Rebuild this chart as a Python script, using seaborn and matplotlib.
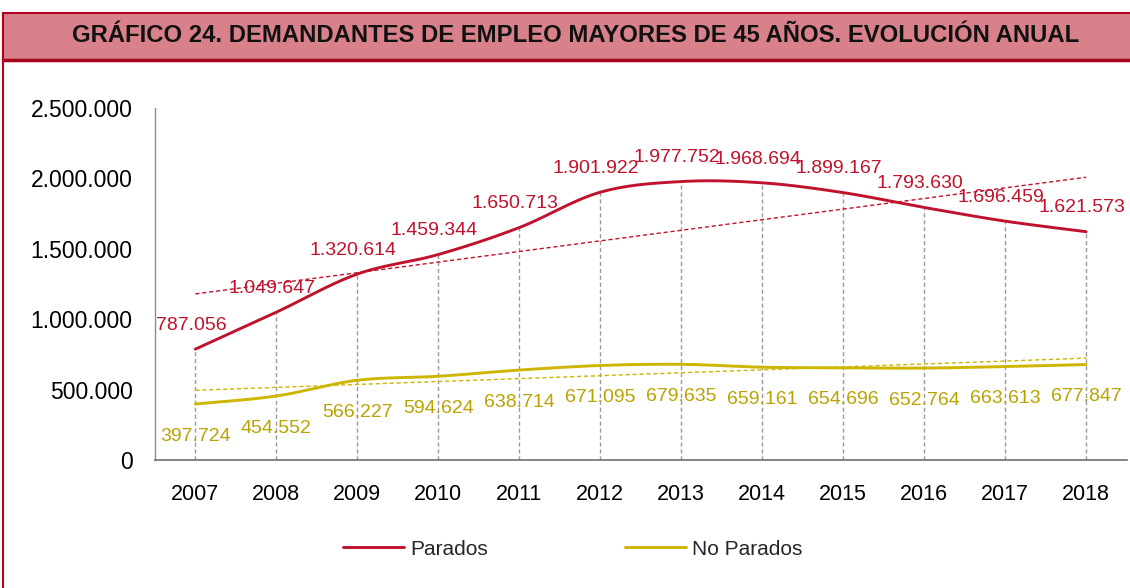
import numpy as np
import pandas as pd
import matplotlib
matplotlib.use('Agg')
import matplotlib.pyplot as plt
import seaborn as sns
from matplotlib.patches import Rectangle
from matplotlib.lines import Line2D
from matplotlib.ticker import FuncFormatter

# data
years = [2007, 2008, 2009, 2010, 2011, 2012, 2013, 2014, 2015, 2016, 2017, 2018]
parados = [787056, 1049647, 1320614, 1459344, 1650713, 1901922,
           1977752, 1968694, 1899167, 1793630, 1696459, 1621573]
no_parados = [397724, 454552, 566227, 594624, 638714, 671095,
              679635, 659161, 654696, 652764, 663613, 677847]
title = 'GRÁFICO 24. DEMANDANTES DE EMPLEO MAYORES DE 45 AÑOS. EVOLUCIÓN ANUAL'

RED = '#C0122C'
GOLD = '#CDB500'
GOLD_TXT = '#B9A300'


def smooth(x, y, n=30):
    # Excel-style smoothed line (Catmull-Rom bezier)
    x = np.asarray(x, float)
    y = np.asarray(y, float)
    px = np.concatenate([[x[0]], x, [x[-1]]])
    py = np.concatenate([[y[0]], y, [y[-1]]])
    xs, ys = [], []
    t = np.linspace(0, 1, n)
    for i in range(1, len(px) - 2):
        p0 = np.array([px[i], py[i]])
        p3 = np.array([px[i + 1], py[i + 1]])
        p1 = p0 + (p3 - np.array([px[i - 1], py[i - 1]])) / 6
        p2 = p3 - (np.array([px[i + 2], py[i + 2]]) - p0) / 6
        b = ((1 - t) ** 3)[:, None] * p0 + (3 * (1 - t) ** 2 * t)[:, None] * p1 \
            + (3 * (1 - t) * t ** 2)[:, None] * p2 + (t ** 3)[:, None] * p3
        xs.extend(b[:, 0])
        ys.extend(b[:, 1])
    return np.array(xs), np.array(ys)


sns.set_style('white')
plt.rcParams['font.family'] = ['Liberation Sans', 'DejaVu Sans']

fig = plt.figure(figsize=(11.3, 5.88), dpi=100)
ax = fig.add_axes([0.137, 0.2177, 0.86, 0.5986])

# drop lines
for x, y in zip(years, parados):
    ax.plot([x, x], [0, y], color='#9a9a9a', lw=1, ls=(0, (3, 2)), zorder=1)

for vals, col in [(parados, RED), (no_parados, GOLD)]:
    sx, sy = smooth(years, vals)
    sns.lineplot(x=sx, y=sy, ax=ax, color=col, lw=2.1, sort=False, zorder=3)
    k, c = np.polyfit(years, vals, 1)
    tx = np.array([years[0], years[-1]])
    ax.plot(tx, k * tx + c, color=col, lw=1, ls=(0, (3, 2)), zorder=2)

for x, y in zip(years, parados):
    ax.annotate(f'{y:,}'.replace(',', '.'), (x, y), xytext=(-3, 11),
                textcoords='offset points', ha='center', va='bottom',
                fontsize=14, color=RED, zorder=4)
for x, y in zip(years, no_parados):
    ax.annotate(f'{y:,}'.replace(',', '.'), (x, y), xytext=(0, -17),
                textcoords='offset points', ha='center', va='top',
                fontsize=14, color=GOLD_TXT, zorder=4)

ax.set_xlim(2006.5, 2018.5)
ax.set_ylim(0, 2500000)
ax.set_xticks(years)
ax.set_yticks(range(0, 2500001, 500000))
ax.yaxis.set_major_formatter(FuncFormatter(lambda v, p: f'{int(v):,}'.replace(',', '.')))
ax.tick_params(axis='both', length=0, colors='black')
ax.tick_params(axis='x', pad=17, labelsize=15.5)
ax.tick_params(axis='y', pad=16, labelsize=16.5)
ax.set_xlabel('')
ax.set_ylabel('')
for s in ['top', 'right']:
    ax.spines[s].set_visible(False)
ax.spines['left'].set_color('#8c8c8c')
ax.spines['bottom'].set_color('#707070')
ax.spines['left'].set_linewidth(1)
ax.spines['bottom'].set_linewidth(1.2)
ax.grid(False)

handles = [Line2D([], [], color=RED, lw=2.1), Line2D([], [], color=GOLD, lw=2.1)]
fig.legend(handles, ['Parados', 'No Parados'], loc='center', bbox_to_anchor=(0.507, 0.066),
           ncol=2, frameon=False, fontsize=15, handlelength=2.9, handletextpad=0.3,
           columnspacing=6.6)

# banner
fig.patches.append(Rectangle((3 / 1130, 1 - 60 / 588), 1.0, 47 / 588, transform=fig.transFigure,
                             facecolor='#D8818B', edgecolor='#B0041F', lw=1.5, zorder=0))
fig.add_artist(Line2D([3 / 1130, 1], [1 - 60 / 588, 1 - 60 / 588], transform=fig.transFigure,
                      color='#A8001C', lw=2.5))
fig.add_artist(Line2D([3 / 1130, 3 / 1130], [0, 1 - 13 / 588], transform=fig.transFigure,
                      color='#B0041F', lw=1.5))
fig.text(576 / 1130, 1 - 36 / 588, title, ha='center', va='center', fontsize=17.2,
         fontweight='bold', color='#111111')

fig.savefig('out.png', dpi=100)
